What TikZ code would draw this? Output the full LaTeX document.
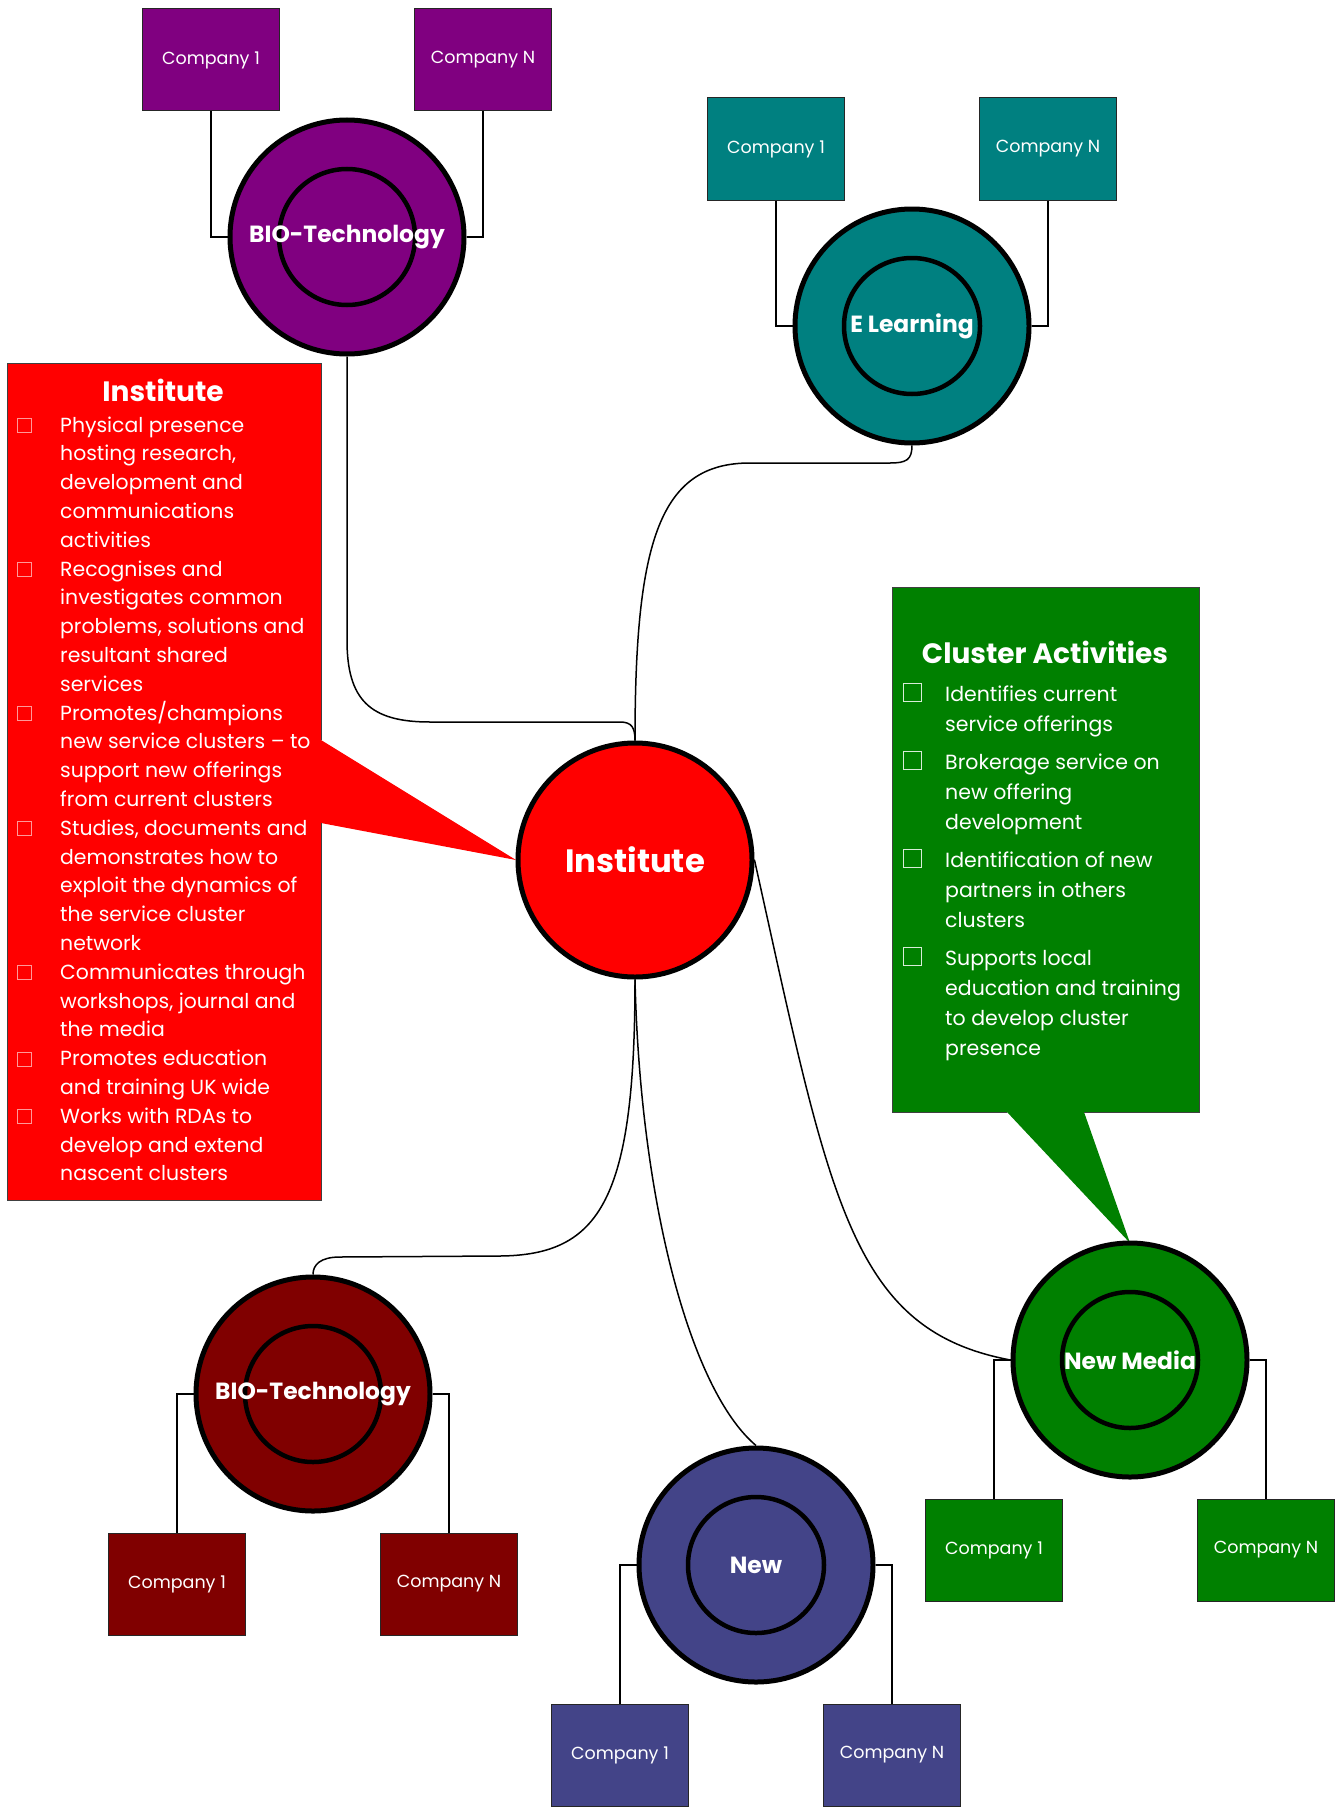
\documentclass[tikz,border=0pt]{standalone}
\usepackage{fontspec}
\setmainfont{Poppins}
\usepackage{tikz}
\usetikzlibrary{positioning}
\definecolor{biopurple}{HTML}{800080}
\definecolor{elteal}{HTML}{008080}
\definecolor{instred}{HTML}{FF0000}
\definecolor{mediagreen}{HTML}{008000}
\definecolor{newblue}{HTML}{434488}
\definecolor{biomaroon}{HTML}{800000}
% hollow square in front of each list entry
\newcommand{\sqmark}[3]{\makebox[#3][l]{{\color{#1}\setlength\fboxrule{0.9pt}\setlength\fboxsep{0pt}\fbox{\rule{0pt}{#2}\rule{#2}{0pt}}}}}
\newcommand{\redsq}{\sqmark{instred!40!white}{13pt}{43pt}}
\newcommand{\greensq}{\sqmark{mediagreen!15!white}{17pt}{42pt}}

\begin{document}
\begin{tikzpicture}[x=1pt, y=-1pt,
    hub/.style={circle, draw, line width=5pt, minimum size=234pt, inner sep=0pt, fill=#1},
    core/.style={circle, draw, line width=4.5pt, minimum size=136pt, inner sep=0pt},
    hubtext/.style={text=white, font=\fontsize{23.4}{28}\selectfont\bfseries},
    company/.style={draw=black!85, line width=1pt, fill=#1, minimum width=137pt, minimum height=102pt, inner sep=0pt, text=white, font=\fontsize{17.5}{20}\selectfont},
    link/.style={line width=1.5pt},
    boxline/.style={draw=black!75, line width=1pt},
    boxtitle/.style={text=white, font=\fontsize{28}{32}\selectfont\bfseries, inner sep=0pt, anchor=base},
    bodytext/.style={text=white, inner sep=0pt, anchor=base west}]
    \fill[white] (0,0) rectangle (1339,1809);
    \useasboundingbox (0,0) rectangle (1339,1809);

    % centre and clusters
    \coordinate (instpos) at (635,860);
    \coordinate (biotoppos) at (347,237);
    \coordinate (elearnpos) at (912,326);
    \coordinate (mediapos) at (1130,1360);
    \coordinate (newpos) at (756,1565);
    \coordinate (biobotpos) at (313,1394);

    % callouts
    \fill[instred] (7,363) -- (321,363) -- (321,740) -- (516,860) -- (321,823) -- (321,1200) -- (7,1200) -- cycle;
    \draw[boxline] (321,740) -- (321,363) -- (7,363) -- (7,1200) -- (321,1200) -- (321,823);
    \fill[mediagreen] (892,587) -- (1199,587) -- (1199,1112) -- (1084,1112) -- (1130,1243) -- (1007,1112) -- (892,1112) -- cycle;
    \draw[boxline] (1084,1112) -- (1199,1112) -- (1199,587) -- (892,587) -- (892,1112) -- (1007,1112);

    \node[boxtitle] (insttitle) at (163,401) {Institute};
    \node[bodytext, font=\fontsize{20.4}{28.8}\selectfont] (instlist) at (17,432) {\begin{tabular}[t]{@{}l@{}l@{}}
        \redsq & Physical presence\\
        & hosting research,\\
        & development and\\
        & communications\\
        & activities\\
        \redsq & Recognises and\\
        & investigates common\\
        & problems, solutions and\\
        & resultant shared\\
        & services\\
        \redsq & Promotes/champions\\
        & new service clusters – to\\
        & support new offerings\\
        & from current clusters\\
        \redsq & Studies, documents and\\
        & demonstrates how to\\
        & exploit the dynamics of\\
        & the service cluster\\
        & network\\
        \redsq & Communicates through\\
        & workshops, journal and\\
        & the media\\
        \redsq & Promotes education\\
        & and training UK wide\\
        \redsq & Works with RDAs to\\
        & develop and extend\\
        & nascent clusters
      \end{tabular}};

    \node[boxtitle] (acttitle) at (1045,663) {Cluster Activities};
    \node[bodytext, font=\fontsize{20.5}{30}\selectfont] (actlist) at (903,701) {\begin{tabular}[t]{@{}l@{}l@{}}
        \greensq & Identifies current\\
        & service offerings\\[8pt]
        \greensq & Brokerage service on\\
        & new offering\\
        & development\\[8pt]
        \greensq & Identification of new\\
        & partners in others\\
        & clusters\\[8pt]
        \greensq & Supports local\\
        & education and training\\
        & to develop cluster\\
        & presence
      \end{tabular}};

    % hubs
    \node[hub=instred, text=white, font=\fontsize{32.3}{36}\selectfont\bfseries] (inst) at (instpos) {Institute};
    \node[hub=biopurple] (biotop) at (biotoppos) {};
    \node[core, label={[hubtext]center:BIO-Technology}] (biotopcore) at (biotop) {};
    \node[hub=elteal] (elearn) at (elearnpos) {};
    \node[core, label={[hubtext]center:E Learning}] (elearncore) at (elearn) {};
    \node[hub=mediagreen] (media) at (mediapos) {};
    \node[core, label={[hubtext]center:New Media}] (mediacore) at (media) {};
    \node[hub=newblue] (new) at (newpos) {};
    \node[core, label={[hubtext]center:New}] (newcore) at (new) {};
    \node[hub=biomaroon] (biobot) at (biobotpos) {};
    \node[core, label={[hubtext]center:BIO-Technology}] (biobotcore) at (biobot) {};

    % companies
    \node[company=biopurple] (biotopa) at ([shift={(-136,-177)}]biotop) {Company 1};
    \node[company=biopurple] (biotopb) at ([shift={(136,-177)}]biotop) {Company N};
    \node[company=elteal] (elearna) at ([shift={(-136,-177)}]elearn) {Company 1};
    \node[company=elteal] (elearnb) at ([shift={(136,-177)}]elearn) {Company N};
    \node[company=mediagreen] (mediaa) at ([shift={(-136,190)}]media) {Company 1};
    \node[company=mediagreen] (mediab) at ([shift={(136,190)}]media) {Company N};
    \node[company=newblue] (newa) at ([shift={(-136,190)}]new) {Company 1};
    \node[company=newblue] (newb) at ([shift={(136,190)}]new) {Company N};
    \node[company=biomaroon] (biobota) at ([shift={(-136,190)}]biobot) {Company 1};
    \node[company=biomaroon] (biobotb) at ([shift={(136,190)}]biobot) {Company N};

    % links to companies
    \draw[link] (biotopa.south) |- (biotop.west);
    \draw[link] (biotopb.south) |- (biotop.east);
    \draw[link] (elearna.south) |- (elearn.west);
    \draw[link] (elearnb.south) |- (elearn.east);
    \draw[link] (media.west) -| (mediaa.north);
    \draw[link] (media.east) -| (mediab.north);
    \draw[link] (new.west) -| (newa.north);
    \draw[link] (new.east) -| (newb.north);
    \draw[link] (biobot.west) -| (biobota.north);
    \draw[link] (biobot.east) -| (biobotb.north);

    % links to the institute
    \draw[link] (biotop.south) -- (347,640) .. controls (347,700) and (370,722) .. (430,722) -- (620,722) .. controls (632,722) and (635,728) .. (inst.north);
    \draw[link] (elearn.south) .. controls (912,460) and (906,463) .. (890,463) -- (750,463) .. controls (660,463) and (635,540) .. (inst.north);
    \draw[link] (inst.east) .. controls (830,1200) and (850,1330) .. (media.west);
    \draw[link] (inst.south) .. controls (640,1200) and (690,1390) .. (new.north);
    \draw[link] (inst.south) .. controls (635,1200) and (600,1255) .. (500,1256) -- (340,1257) .. controls (320,1257) and (313,1265) .. (biobot.north);
  \end{tikzpicture}
\end{document}
